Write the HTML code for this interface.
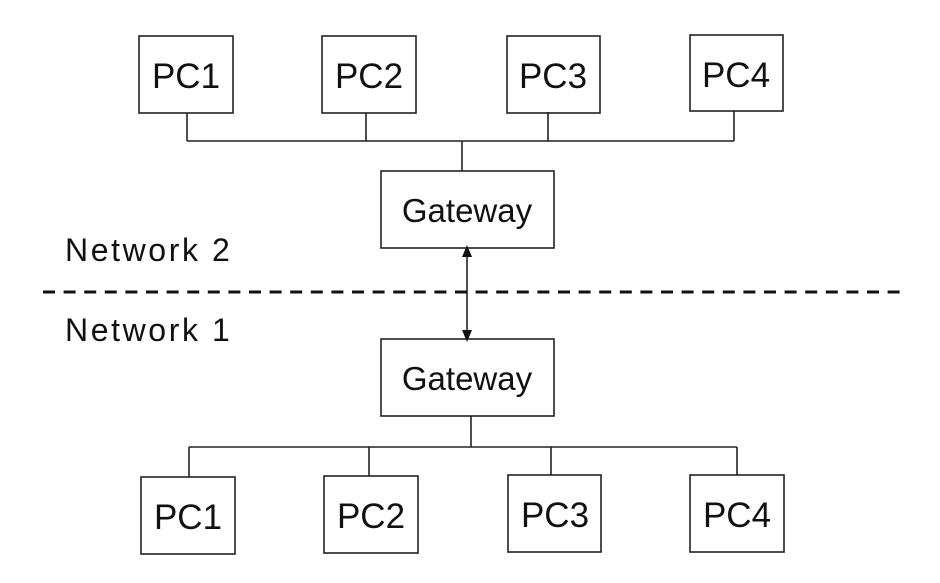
<!DOCTYPE html>
<html><head><meta charset="utf-8"><style>
html,body{margin:0;padding:0;background:#fff;}
svg{display:block;}
text{font-family:"Liberation Sans",sans-serif;fill:#111;}
</style></head><body>
<svg width="940" height="583" viewBox="0 0 940 583" xmlns="http://www.w3.org/2000/svg">
<defs>
<marker id="ah" markerWidth="12" markerHeight="12" refX="6" refY="6" orient="auto-start-reverse" markerUnits="userSpaceOnUse">
<path d="M0,1 L12,6 L0,11 z" fill="#111"/>
</marker>
</defs>
<g fill="none" stroke="#222" stroke-width="1.6">
<rect x="139" y="36" width="94" height="77"/>
<rect x="322" y="36" width="94" height="77"/>
<rect x="507" y="36" width="93" height="77"/>
<rect x="690" y="35" width="93" height="76"/>
<path d="M187,113 V141 M366,113 V141 M548,112 V141 M734,111 V141 M187,141 H734 M462,141 V171"/>
<rect x="381" y="171" width="173" height="77"/>
<rect x="381" y="339" width="173" height="77"/>
<path d="M471,416 V447 M189,447 H737 M189,447 V477 M369,447 V476 M551,447 V475 M737,447 V475"/>
<rect x="141" y="477" width="94" height="77"/>
<rect x="324" y="476" width="94" height="77"/>
<rect x="508" y="475" width="93" height="77"/>
<rect x="690" y="475" width="94" height="77"/>
<line x1="467" y1="251" x2="467" y2="336" marker-start="url(#ah)" marker-end="url(#ah)"/>
</g>
<line x1="43" y1="292" x2="900" y2="292" stroke="#111" stroke-width="3" stroke-dasharray="12,8.6"/>
<g font-size="35" text-anchor="middle">
<text x="186" y="88">PC1</text>
<text x="369" y="88">PC2</text>
<text x="553" y="88">PC3</text>
<text x="736" y="87">PC4</text>
<text x="188" y="529">PC1</text>
<text x="371" y="528">PC2</text>
<text x="555" y="527">PC3</text>
<text x="737" y="527">PC4</text>
</g>
<g font-size="33" text-anchor="middle">
<text x="467" y="222">Gateway</text>
<text x="467" y="390">Gateway</text>
</g>
<g font-size="32" letter-spacing="2.6">
<text x="65" y="261">Network 2</text>
<text x="65" y="341">Network 1</text>
</g>
</svg>
</body></html>
